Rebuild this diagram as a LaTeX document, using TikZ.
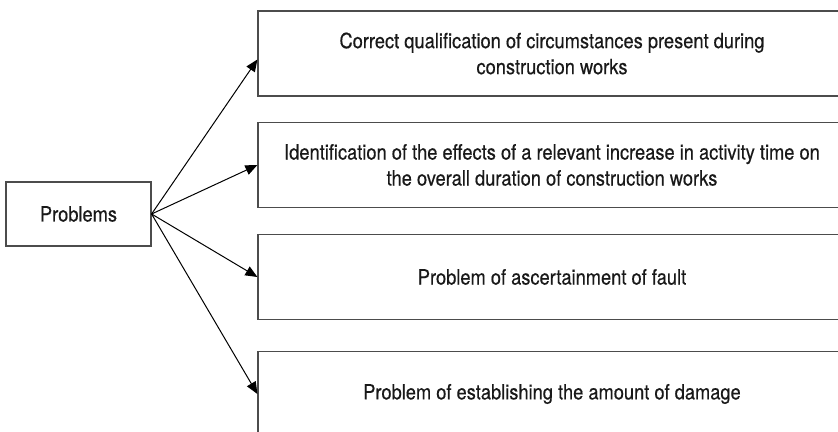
\documentclass[tikz,border=0pt]{standalone}
\usepackage{fontspec}
\setmainfont[FakeStretch=0.87,FakeBold=0.4]{TeX Gyre Heros}
\usepackage{tikz}
\usetikzlibrary{arrows.meta}

\begin{document}
\begin{tikzpicture}[x=0.5pt,y=-0.5pt,
		box/.style={draw=black!70,line width=0.6pt,align=center,text=black!90,
			font=\fontsize{10.5}{13}\selectfont,inner sep=0pt},
		item/.style={box,minimum width=294pt,minimum height=42.5pt},
		arr/.style={-{Triangle[length=6pt,width=5pt]},line width=0.5pt}]
	\path[use as bounding box,clip] (0,0) rectangle (838,432);
	\node[box,minimum width=72.5pt,minimum height=32pt] (prob) at (78.5,214) {Problems};
	\node[item] (c1) at (552,53.5) {Correct qualification of circumstances present during\\construction works};
	\node[item] (c2) at (552,165) {Identification of the effects of a relevant increase in activity time on\\the overall duration of construction works};
	\node[item] (c3) at (552,277) {Problem of ascertainment of fault};
	\node[item] (c4) at (552,394) {Problem of establishing the amount of damage};
	\draw[arr] (prob.east) -- ([yshift=-3pt]c1.west);
	\draw[arr] (prob.east) -- (c2.west);
	\draw[arr] (prob.east) -- (c3.west);
	\draw[arr] (prob.east) -- (c4.west);
\end{tikzpicture}
\end{document}
